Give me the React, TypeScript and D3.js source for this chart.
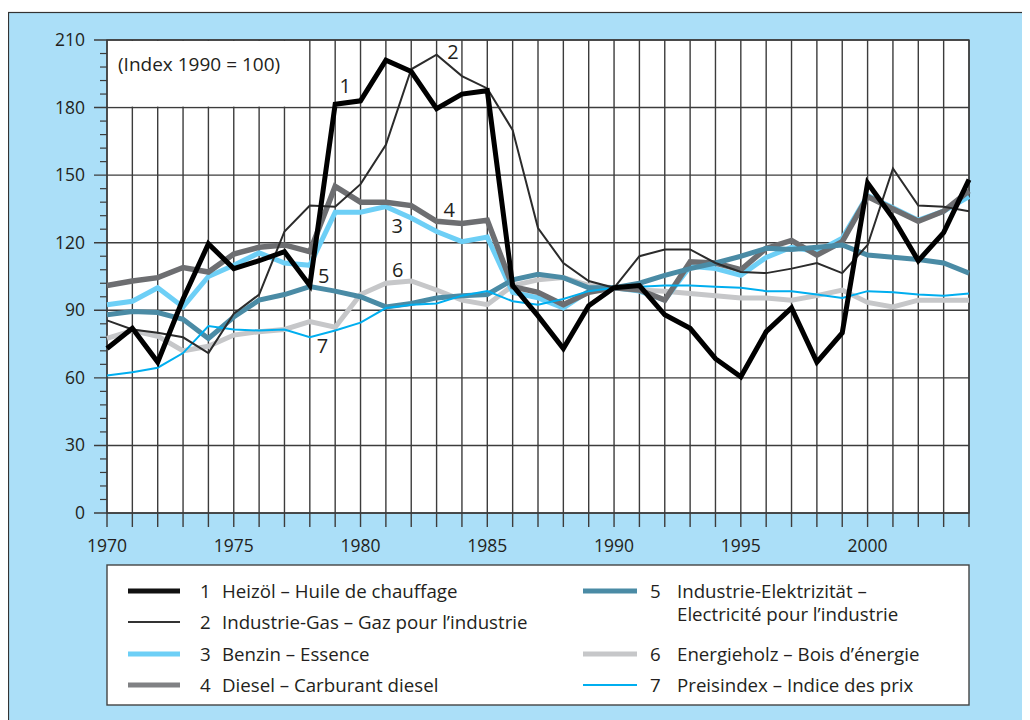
import React from 'react';
import * as d3 from 'd3';

const years = [
  1970, 1971, 1972, 1973, 1974, 1975, 1976, 1977, 1978, 1979,
  1980, 1981, 1982, 1983, 1984, 1985, 1986, 1987, 1988, 1989,
  1990, 1991, 1992, 1993, 1994, 1995, 1996, 1997, 1998, 1999,
  2000, 2001, 2002, 2003, 2004,
];

// Index 1990 = 100
const heizoel = [
  73, 82, 67, 95, 119.5, 108.5, 112, 116, 101, 181.5,
  183, 201, 196, 179.5, 186, 187.5, 101, 87.5, 73, 92,
  100, 101, 88, 82, 68.5, 60.5, 80.5, 91, 67, 80,
  146.5, 131, 112, 124.5, 148,
];
const gas = [
  85.5, 81.5, 80, 78, 71, 88.5, 97, 125, 136.5, 136,
  146, 163.5, 197, 203.5, 194, 188.5, 170, 126.5, 111, 103,
  100, 114, 117, 117, 111, 107, 106.5, 108.5, 111, 106.5,
  119, 153, 136.5, 136, 134,
];
const benzin = [
  92.5, 94, 100, 91.5, 105, 110, 115.5, 111, 110, 133.5,
  133.5, 136, 131, 125, 120.5, 122.5, 98, 95.5, 91, 98.5,
  100, 98.5, 94.5, 109.5, 108.5, 105.5, 113.5, 118, 116, 122,
  141, 135.5, 130, 134, 140.5,
];
const diesel = [
  101, 103, 104.5, 109, 107, 115, 118, 119, 116, 145,
  138, 138, 136.5, 129.5, 128.5, 130, 100.5, 98, 92.5, 98,
  100, 99, 94.5, 111.5, 111, 108, 117.5, 121, 114.5, 120.5,
  140.5, 135, 129.5, 134, 143,
];
const elektro = [
  88, 89.5, 89, 86, 77.5, 87, 94.5, 97, 100.5, 98.5,
  96, 91.5, 93, 95.5, 96.5, 97, 103.5, 106, 104.5, 100,
  100, 102, 105.5, 108.5, 111, 114, 117.5, 117, 118, 119,
  114.5, 113.5, 112.5, 111, 106.5,
];
const holz = [
  77.5, 81, 78.5, 72, 74, 79, 80.5, 81.5, 85, 82.5,
  97, 102, 103, 99, 94.5, 92.5, 101, 103.5, 104.5, 101,
  100, 99, 98.5, 97.5, 96.5, 95.5, 95.5, 94.5, 96.5, 99,
  93.5, 91.5, 94.5, 94.5, 94.5,
];
const preis = [
  61, 62.5, 64.5, 71, 83, 81.5, 81, 81.5, 78, 81,
  84.5, 91, 92.5, 93, 96.5, 98.5, 94, 92.5, 95, 98.5,
  100, 100.5, 101, 101, 100.5, 100, 98.5, 98.5, 97, 95.5,
  98.5, 98, 97, 96.5, 97.5,
];

const yTicks = [0, 30, 60, 90, 120, 150, 180, 210];
const xLabels = [1970, 1975, 1980, 1985, 1990, 1995, 2000];

// drawing order: bottom first
const series = [
  { id: 6, values: holz, color: '#c6c7c9', width: 5 },
  { id: 3, values: benzin, color: '#6dcff6', width: 5 },
  { id: 4, values: diesel, color: '#6d6e71', width: 5.5 },
  { id: 5, values: elektro, color: '#4a8ba5', width: 5 },
  { id: 7, values: preis, color: '#00aeef', width: 2 },
  { id: 2, values: gas, color: '#2b2b2b', width: 2 },
  { id: 1, values: heizoel, color: '#000000', width: 5 },
];

const lineLabels = [
  { text: '1', year: 1979.4, value: 186.5 },
  { text: '2', year: 1983.65, value: 201.4 },
  { text: '3', year: 1981.45, value: 124.2 },
  { text: '4', year: 1983.5, value: 131.5 },
  { text: '5', year: 1978.55, value: 102 },
  { text: '6', year: 1981.47, value: 104.6 },
  { text: '7', year: 1978.5, value: 70.9 },
];

const legendLeft = [
  { n: '1', lines: ['Heizöl – Huile de chauffage'], color: '#111', width: 5 },
  { n: '2', lines: ['Industrie-Gas – Gaz pour l’industrie'], color: '#333', width: 2 },
  { n: '3', lines: ['Benzin – Essence'], color: '#6dcff6', width: 5 },
  { n: '4', lines: ['Diesel – Carburant diesel'], color: '#808184', width: 5 },
];
const legendRight = [
  { n: '5', lines: ['Industrie-Elektrizität –', 'Electricité pour l’industrie'], color: '#4a8ba5', width: 5 },
  { n: '6', lines: ['Energieholz – Bois d’énergie'], color: '#c6c7c9', width: 5 },
  { n: '7', lines: ['Preisindex – Indice des prix'], color: '#00aeef', width: 2 },
];

const W = 1022;
const H = 712;
const FONT = '"Open Sans", "Noto Sans", sans-serif';
const BG = '#abdff8';
const GRID = '#3c3c3c';
const TXT = '#231f20';

export default function App() {
  const m = { left: 99, top: 32, right: 961, bottom: 505 };
  const x = d3.scaleLinear().domain([1970, 2004]).range([m.left, m.right]);
  const y = d3.scaleLinear().domain([0, 210]).range([m.bottom, m.top]);

  const line = d3
    .line<number>()
    .x((_, i) => x(years[i]))
    .y(d => y(d));

  const minor = d3.range(0, 211, 6);

  const rows = [583, 614, 646, 677];

  return (
    <svg width={W} height={H} style={{ display: 'block', fontFamily: FONT }}>
      <rect x={0.5} y={4.5} width={W + 10} height={H + 10} fill={BG} stroke="#333" strokeWidth={1.2} />

      {/* plot background */}
      <rect x={m.left} y={m.top} width={m.right - m.left} height={m.bottom - m.top} fill="#fff" />

      {/* vertical grid */}
      {years.map(yr => (
        <line key={'v' + yr} x1={x(yr)} x2={x(yr)} y1={m.top} y2={m.bottom + 14}
          stroke={GRID} strokeWidth={1.4} />
      ))}
      {/* horizontal grid */}
      {yTicks.map(t => (
        <line key={'h' + t} x1={m.left - 13} x2={m.right} y1={y(t)} y2={y(t)}
          stroke={GRID} strokeWidth={1.4} />
      ))}
      {minor.filter(t => t % 30 !== 0).map(t => (
        <line key={'mn' + t} x1={m.left - 7} x2={m.left} y1={y(t)} y2={y(t)}
          stroke={GRID} strokeWidth={1.2} />
      ))}

      {/* index note box */}
      <rect x={x(1970) + 1} y={y(210) + 1} width={x(1978) - x(1970) - 2} height={y(180) - y(210) - 2} fill="#fff" />
      <text x={110} y={63} fontSize={19} fill={TXT}>(Index 1990 = 100)</text>

      {/* border */}
      <rect x={m.left} y={m.top} width={m.right - m.left} height={m.bottom - m.top} fill="none" stroke={GRID} strokeWidth={1.4} />

      {/* axis labels */}
      {yTicks.map(t => (
        <text key={'yl' + t} x={m.left - 22} y={y(t) + 6} textAnchor="end" fontSize={17.5} fill={TXT}>{t}</text>
      ))}
      {xLabels.map(t => (
        <text key={'xl' + t} x={x(t)} y={544} textAnchor="middle" fontSize={17.5} fill={TXT}>{t}</text>
      ))}

      {/* series */}
      {series.map(s => (
        <path key={'s' + s.id} d={line(s.values) || ''} fill="none" stroke={s.color}
          strokeWidth={s.width} strokeLinejoin="miter" strokeMiterlimit={3} />
      ))}

      {lineLabels.map(l => (
        <text key={'ll' + l.text} x={x(l.year)} y={y(l.value)} textAnchor="middle" fontSize={20} fill={TXT}>{l.text}</text>
      ))}

      {/* legend */}
      <rect x={m.left} y={557} width={m.right - m.left} height={140} fill="#fff" stroke="#444" strokeWidth={1.4} />
      {legendLeft.map((d, i) => (
        <g key={'lg' + d.n}>
          <line x1={120} x2={172} y1={rows[i]} y2={rows[i]} stroke={d.color} strokeWidth={d.width} />
          <text x={192} y={rows[i] + 6.5} fontSize={18.7} fill={TXT}>{d.n}</text>
          <text x={214} y={rows[i] + 6.5} fontSize={18.7} fill={TXT}>{d.lines[0]}</text>
        </g>
      ))}
      {legendRight.map((d, i) => {
        const r = i === 0 ? rows[0] : rows[i + 1];
        return (
          <g key={'lg' + d.n}>
            <line x1={575} x2={629} y1={r} y2={r} stroke={d.color} strokeWidth={d.width} />
            <text x={642} y={r + 6.5} fontSize={18.7} fill={TXT}>{d.n}</text>
            {d.lines.map((t, j) => (
              <text key={j} x={669} y={r + 6.5 + j * 23} fontSize={18.7} fill={TXT}>{t}</text>
            ))}
          </g>
        );
      })}
    </svg>
  );
}
